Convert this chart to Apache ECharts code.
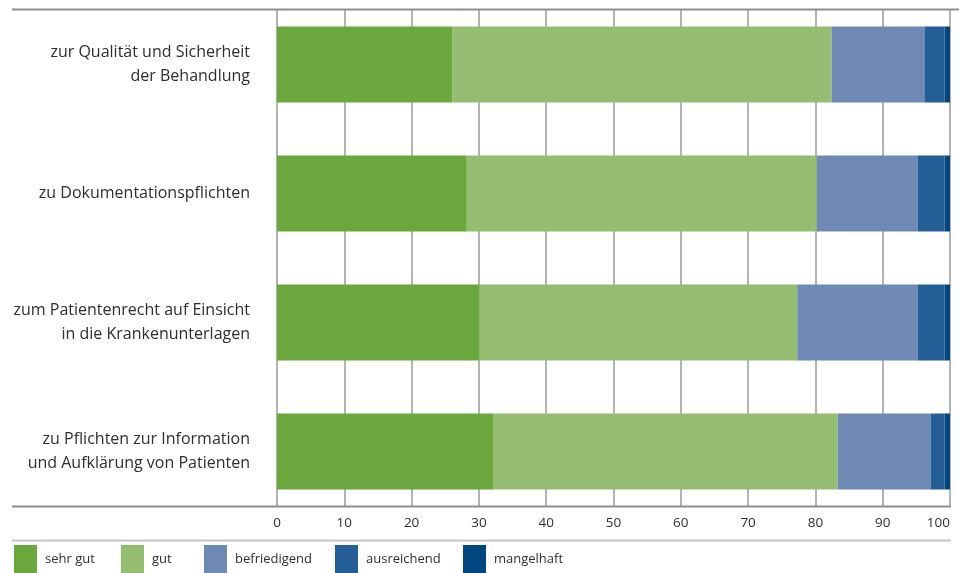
<!DOCTYPE html>
<html>
<head>
<meta charset="utf-8">
<script src="https://cdn.jsdelivr.net/npm/echarts@6/dist/echarts.min.js"></script>
<style>
  html, body { margin: 0; padding: 0; background: #fff; }
  #chart { width: 959px; height: 573px; }
</style>
</head>
<body>
<div id="chart"></div>
<script>
// Bewertung der Regelungen (Anteile in Prozent)
const categories = [
  'zur Qualität und Sicherheit\nder Behandlung',
  'zu Dokumentationspflichten',
  'zum Patientenrecht auf Einsicht\nin die Krankenunterlagen',
  'zu Pflichten zur Information\nund Aufklärung von Patienten'
];
const seriesNames = ['sehr gut', 'gut', 'befriedigend', 'ausreichend', 'mangelhaft'];
const sehrGut      = [26.1, 28.2, 30.1, 32.1];
const gut          = [56.3, 52.0, 47.2, 51.2];
const befriedigend = [13.8, 15.0, 17.9, 13.8];
const ausreichend  = [3.0, 4.0, 4.0, 2.1];
const mangelhaft   = [0.8, 0.8, 0.8, 0.8];
const xTicks = { min: 0, max: 100, interval: 10 };

const colors = ['#6aa83d', '#94bd71', '#6f89b5', '#245e96', '#01467f'];
const values = [sehrGut, gut, befriedigend, ausreichend, mangelhaft];
const legendLeft = [14, 121, 204, 335, 463];
const font = '"Open Sans", "Noto Sans", sans-serif';
const textColor = '#2e2e2e';

const chart = echarts.init(document.getElementById('chart'), null, { renderer: 'canvas' });

chart.setOption({
  animation: false,
  color: colors,
  grid: [
    // bars and category labels
    { left: 277, right: 9, top: 0, height: 516 },
    // vertical gridlines and value labels
    { left: 277, right: 9, top: 10, bottom: 67 }
  ],
  xAxis: [
    { gridIndex: 0, type: 'value', min: xTicks.min, max: xTicks.max, show: false },
    {
      gridIndex: 1, type: 'value', min: xTicks.min, max: xTicks.max, interval: xTicks.interval,
      axisLine: { show: false },
      axisTick: { show: false },
      splitLine: { show: true, lineStyle: { color: '#9a9a9a', width: 1.5 } },
      axisLabel: { color: textColor, fontFamily: font, fontSize: 13.5, margin: 10, alignMaxLabel: 'right' }
    }
  ],
  yAxis: [
    {
      gridIndex: 0, type: 'category', inverse: true, data: categories,
      axisLine: { show: false }, axisTick: { show: false }, splitLine: { show: false },
      axisLabel: { color: textColor, fontFamily: font, fontSize: 16, lineHeight: 24, margin: 27, align: 'right' }
    },
    { gridIndex: 1, type: 'value', show: false }
  ],
  // one legend per entry so each swatch sits at its own position
  legend: seriesNames.map((name, i) => ({
    left: legendLeft[i], top: 545, padding: 0,
    itemWidth: 23, itemHeight: 28,
    icon: 'rect',
    selectedMode: false,
    textStyle: { color: textColor, fontFamily: font, fontSize: 13, padding: [0, 0, 0, 3] },
    data: [name]
  })),
  series: seriesNames.map((name, i) => ({
    name: name,
    type: 'bar',
    stack: 'total',
    xAxisIndex: 0,
    yAxisIndex: 0,
    barWidth: 76,
    data: values[i],
    itemStyle: { color: colors[i] }
  })),
  graphic: [
    { type: 'line', shape: { x1: 12, y1: 9.5, x2: 959, y2: 9.5 }, style: { stroke: '#8e8e8e', lineWidth: 2 }, z: 10 },
    { type: 'line', shape: { x1: 12, y1: 506.5, x2: 951, y2: 506.5 }, style: { stroke: '#8e8e8e', lineWidth: 2 }, z: 10 },
    { type: 'line', shape: { x1: 12, y1: 540.5, x2: 951, y2: 540.5 }, style: { stroke: '#c4c4c4', lineWidth: 2 }, z: 10 }
  ]
});
</script>
</body>
</html>
